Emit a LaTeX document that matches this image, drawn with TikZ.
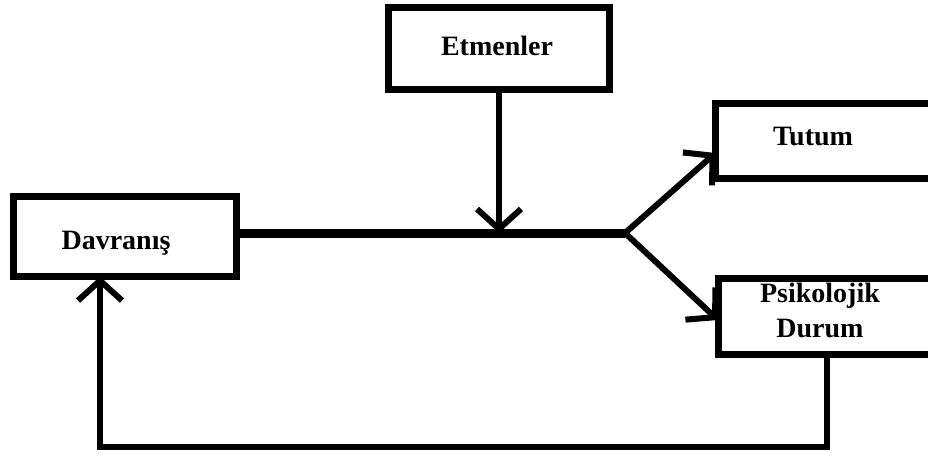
\documentclass[tikz,border=0pt]{standalone}
\usepackage{fontspec}
\setmainfont{Liberation Serif}
\usetikzlibrary{arrows.meta}
\tikzset{
  box/.style={draw=black, line width=7pt, fill=white, inner sep=0pt, outer sep=0pt},
  lbl/.style={font=\fontsize{28}{35}\selectfont\bfseries, align=center, inner sep=0pt},
  conn/.style={line width=6pt, line cap=round, line join=miter},
  arr/.style={conn, -{Straight Barb[length=20pt,width=44pt]}},
}
\begin{document}
\begin{tikzpicture}[x=1pt,y=-1pt]
\clip (0,0) rectangle (928,458);
\fill[white] (0,0) rectangle (928,458);
% boxes
\node[box, minimum width=221pt, minimum height=82pt,
      label={[lbl,xshift=-2pt,yshift=3pt]center:Etmenler}] (etm) at (499,48.5) {};
\node[box, minimum width=223pt, minimum height=80pt,
      label={[lbl,xshift=-9pt,yshift=-7pt]center:Davranış}] (dav) at (125,236.5) {};
\node[box, minimum width=225pt, minimum height=75pt,
      label={[lbl,xshift=-15pt,yshift=4pt]center:Tutum}] (tut) at (828,141) {};
\node[box, minimum width=222pt, minimum height=76pt,
      label={[lbl,xshift=-9pt,yshift=6pt]center:Psikolojik\\Durum}] (psi) at (829,316.5) {};
% junction and feedback route
\coordinate (j) at (625,233);
\coordinate (c1) at (827,447);
\coordinate (c2) at (100,447);
% main line
\draw[line width=9pt] (dav.east |- j) -- (j);
% Etmenler arrow
\draw[arr] (etm.south) -- (etm.south |- j);
% branches
\draw[arr] (j) -- (tut.west |- 0,153);
\draw[arr] (j) -- (psi.west |- 0,320);
% feedback
\draw[arr, line cap=butt] (psi.south -| c1) -- (c1) -- (c2) -- (dav.south -| c2);
\end{tikzpicture}
\end{document}
